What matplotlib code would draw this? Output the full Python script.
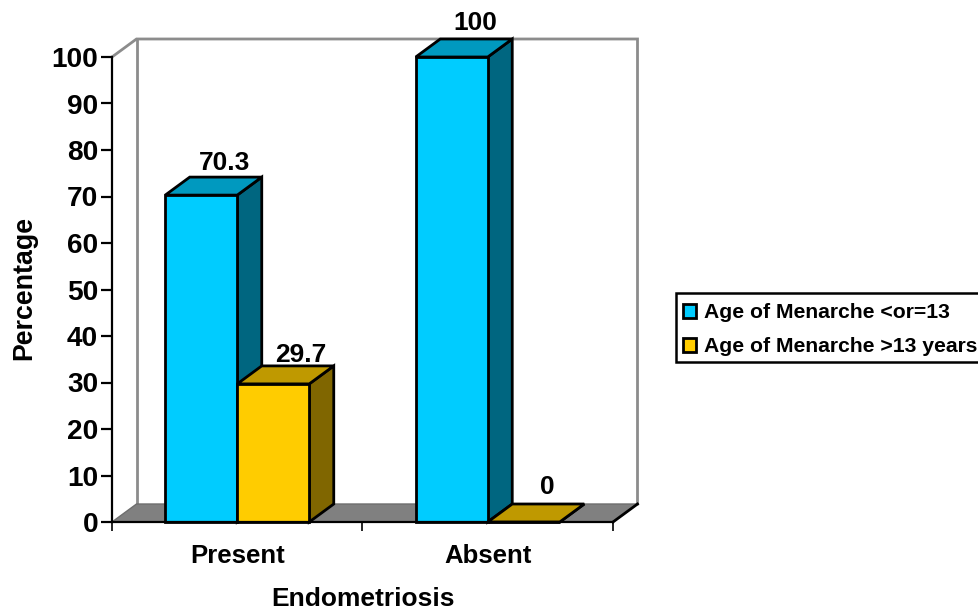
import matplotlib
matplotlib.use("Agg")
import matplotlib.pyplot as plt
from matplotlib.patches import Polygon, Patch, Rectangle

plt.rcParams["font.family"] = ["Liberation Sans", "DejaVu Sans"]
plt.rcParams["font.weight"] = "bold"

categories = ["Present", "Absent"]
series_names = ["Age of Menarche <or=13", "Age of Menarche >13 years"]
under_13 = [70.3, 100]
over_13 = [29.7, 0]
y_ticks = list(range(0, 101, 10))

W, H = 979, 611
fig = plt.figure(figsize=(W / 100, H / 100), dpi=100, facecolor="white")
ax = fig.add_axes([112 / W, 1 - 522 / H, 501 / W, 465 / H])
ax.set_xlim(0, 2)
ax.set_ylim(0, 100)
ax.patch.set_visible(False)

# Oblique depth of the pseudo-3D box, in data units
DX = 24.5 / 250.5
DY = 18 / 4.65
BAR_W = 72 / 250.5

WALL = "#8c8c8c"
# Back wall outline and left diagonal
ax.plot([0, DX, 2 + DX, 2 + DX], [100, 100 + DY, 100 + DY, DY], color=WALL, lw=2,
        clip_on=False, zorder=1, solid_joinstyle="miter")
ax.plot([DX, DX], [100 + DY, DY], color=WALL, lw=2, clip_on=False, zorder=1)
# Floor
ax.add_patch(Polygon([(0, 0), (DX, DY), (2 + DX, DY), (2, 0)], closed=True,
                     facecolor="#808080", edgecolor="#6e6e6e", lw=1,
                     clip_on=False, zorder=1))
ax.plot([2, 2 + DX], [0, DY], color="black", lw=2, clip_on=False, zorder=2)


def draw_bar(x0, value, front, top, side):
    x1 = x0 + BAR_W
    common = dict(closed=True, edgecolor="black", lw=2, clip_on=False,
                  joinstyle="miter", zorder=3)
    ax.add_patch(Polygon([(x1, 0), (x1 + DX, DY), (x1 + DX, value + DY), (x1, value)],
                         facecolor=side, **common))
    ax.add_patch(Polygon([(x0, value), (x0 + DX, value + DY), (x1 + DX, value + DY), (x1, value)],
                         facecolor=top, **common))
    ax.add_patch(Polygon([(x0, 0), (x0, value), (x1, value), (x1, 0)],
                         facecolor=front, **common))


BLUE = ("#00CCFF", "#0099BF", "#006680")
GOLD = ("#FFCC00", "#BF9900", "#806600")
label_shift = [(16.5, 10.5), (20, 8), (17, 11.5), (17, 12)]

i = 0
for c, (a, b) in enumerate(zip(under_13, over_13)):
    centre = c + 0.5
    draw_bar(centre - BAR_W, a, *BLUE)
    draw_bar(centre, b, *GOLD)
    for x, v in ((centre - BAR_W / 2, a), (centre + BAR_W / 2, b)):
        ax.annotate(f"{v:g}", (x, v + DY), xytext=label_shift[i], textcoords="offset points",
                    ha="center", va="center", fontsize=19, fontweight="bold",
                    annotation_clip=False, zorder=5)
        i += 1

# Axes, ticks and titles
for s in ("top", "right"):
    ax.spines[s].set_visible(False)
for s in ("left", "bottom"):
    ax.spines[s].set_linewidth(1.6)
    ax.spines[s].set_zorder(4)
ax.set_yticks(y_ticks)
ax.tick_params(axis="y", length=8, width=1.6, labelsize=20.2, pad=2)
ax.set_xticks([0, 1, 2])
ax.set_xticklabels([])
ax.set_xticks([0.5, 1.5], labels=categories, minor=True)
ax.tick_params(axis="x", which="major", length=6.5, width=1.2)
ax.tick_params(axis="x", which="minor", length=0, labelsize=18.5, pad=15.5)

fig.text(363 / W, 1 - 599 / H, "Endometriosis", ha="center", va="center", fontsize=19, fontweight="bold")
fig.text(24 / W, 1 - 288 / H, "Percentage", ha="center", va="center", rotation=90, fontsize=19.3, fontweight="bold")

# Legend box runs off the right edge of the figure, so its frame is drawn separately
fig.add_artist(Rectangle((676 / W, 1 - 362 / H), 320 / W, 69 / H, transform=fig.transFigure,
                         facecolor="white", edgecolor="black", lw=1.8, zorder=1))
handles = [Patch(facecolor=BLUE[0], edgecolor="black", lw=2),
           Patch(facecolor=GOLD[0], edgecolor="black", lw=2)]
leg = fig.legend(handles, series_names, loc="lower left",
                 bbox_to_anchor=(676 / W, 1 - 363 / H), bbox_transform=fig.transFigure,
                 frameon=False, prop={"size": 15.2, "weight": "bold"},
                 handlelength=0.66, handleheight=0.66, handletextpad=0.35,
                 labelspacing=0.715, borderpad=0.31, borderaxespad=0)
leg.set_zorder(2)

fig.savefig("out.png", dpi=100)
